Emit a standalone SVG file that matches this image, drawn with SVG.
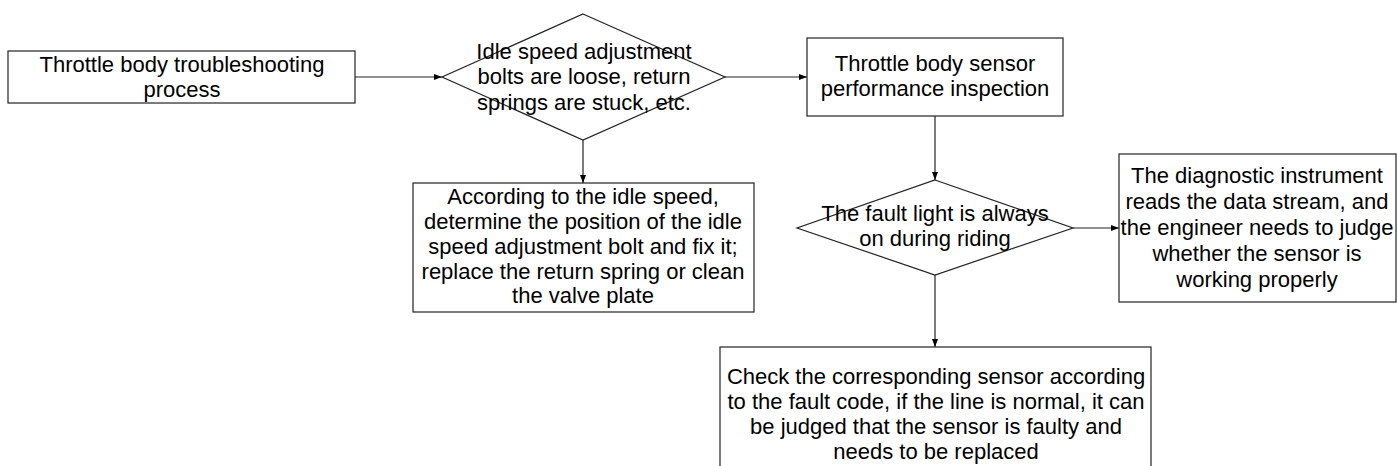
<svg xmlns="http://www.w3.org/2000/svg" width="1397" height="466" viewBox="0 0 1397 466">
<style>
.n{fill:#fff;stroke:#222;stroke-width:1.2}
.t{font-family:"Liberation Sans",Arial,sans-serif;font-size:22px;fill:#000;text-anchor:middle}
.c{fill:none;stroke:#222;stroke-width:1.2;marker-end:url(#a)}
</style>
<defs>
<marker id="a" viewBox="0 0 8 6" refX="8" refY="3" markerWidth="8" markerHeight="6" markerUnits="userSpaceOnUse" orient="auto">
<path d="M0,0 L8,3 L0,6 Z" fill="#000"/>
</marker>
</defs>
<rect width="1397" height="466" fill="#fff"/>
<g id="connectors">
<line class="c" x1="355" y1="77" x2="442" y2="77"/>
<line class="c" x1="725" y1="77" x2="807" y2="77"/>
<line class="c" x1="583" y1="140" x2="583" y2="183"/>
<line class="c" x1="935" y1="116" x2="935" y2="180"/>
<line class="c" x1="1073" y1="228" x2="1119" y2="228"/>
<line class="c" x1="935" y1="275" x2="935" y2="347"/>
</g>
<g id="start">
<rect class="n" x="8" y="51" width="347" height="52"/>
<text class="t" x="182" y="72">Throttle body troubleshooting</text>
<text class="t" x="182" y="97">process</text>
</g>
<g id="decision1">
<polygon class="n" points="583,14 725,77 583,140 442,77"/>
<text class="t" x="584" y="59">Idle speed adjustment</text>
<text class="t" x="584" y="84">bolts are loose, return</text>
<text class="t" x="584" y="110">springs are stuck, etc.</text>
</g>
<g id="fix">
<rect class="n" x="413" y="183" width="341" height="129"/>
<text class="t" x="583" y="204">According to the idle speed,</text>
<text class="t" x="583" y="229">determine the position of the idle</text>
<text class="t" x="583" y="254">speed adjustment bolt and fix it;</text>
<text class="t" x="583" y="279">replace the return spring or clean</text>
<text class="t" x="583" y="303">the valve plate</text>
</g>
<g id="sensor">
<rect class="n" x="807" y="38" width="256" height="78"/>
<text class="t" x="935" y="71">Throttle body sensor</text>
<text class="t" x="935" y="96">performance inspection</text>
</g>
<g id="decision2">
<polygon class="n" points="935,180 1073,228 935,275 797,228"/>
<text class="t" x="935" y="221">The fault light is always</text>
<text class="t" x="935" y="246">on during riding</text>
</g>
<g id="diagnostic">
<rect class="n" x="1119" y="154" width="277" height="148"/>
<text class="t" x="1257" y="183">The diagnostic instrument</text>
<text class="t" x="1257" y="209">reads the data stream, and</text>
<text class="t" x="1257" y="235">the engineer needs to judge</text>
<text class="t" x="1257" y="261">whether the sensor is</text>
<text class="t" x="1257" y="287">working properly</text>
</g>
<g id="replace">
<rect class="n" x="720" y="347" width="431" height="140"/>
<text class="t" x="936" y="384">Check the corresponding sensor according</text>
<text class="t" x="936" y="409">to the fault code, if the line is normal, it can</text>
<text class="t" x="936" y="434">be judged that the sensor is faulty and</text>
<text class="t" x="936" y="459">needs to be replaced</text>
</g>
</svg>
